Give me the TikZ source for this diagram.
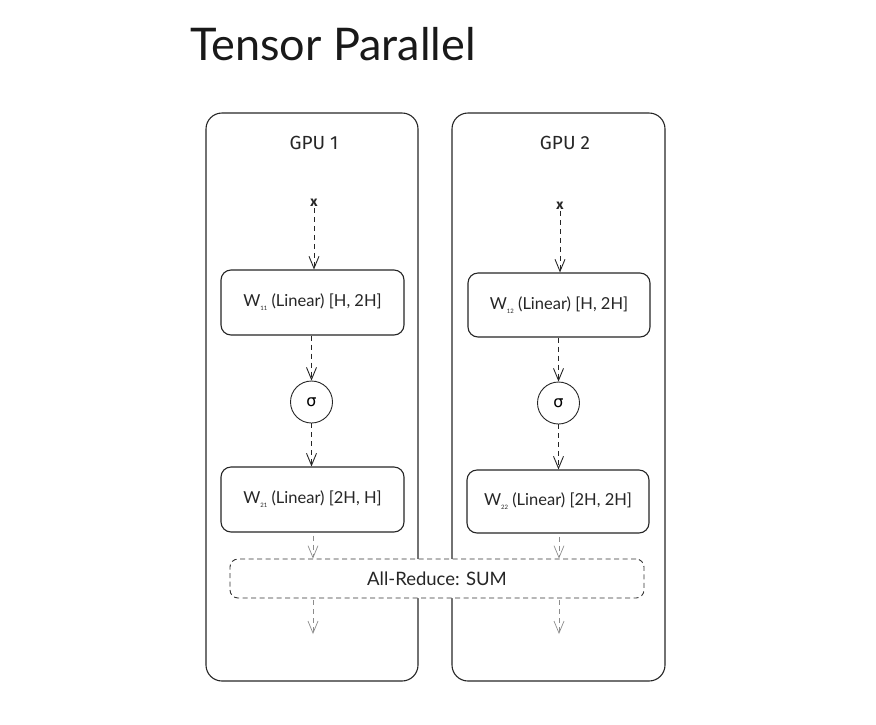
\documentclass[tikz,border=0pt]{standalone}
\usepackage{fontspec}
\setmainfont{Lato}
\newfontfamily\hand{Fira Sans}
\newfontfamily\dejavu{DejaVu Sans}
\usetikzlibrary{arrows.meta}
\begin{document}
\begin{tikzpicture}[x=1pt,y=-1pt,
  gpubox/.style={draw=black!85,line width=1.1pt,rounded corners=16pt},
  layerbox/.style={draw=black!85,line width=1.1pt,rounded corners=10pt,fill=white},
  sigmanode/.style={draw=black!85,line width=0.9pt,circle,minimum size=42pt,inner sep=0pt,font=\dejavu\fontsize{16}{18}\selectfont},
  flow/.style={draw=black!85,line width=1pt,dash pattern=on 5pt off 4pt,-{Straight Barb[length=12pt,width=10pt,line width=0.9pt]}},
  lightflow/.style={draw=black!45,line width=0.8pt,dash pattern=on 5pt off 4pt,-{Straight Barb[length=12pt,width=10pt,line width=0.7pt]}},
  lbl/.style={font=\fontsize{16.5}{18}\selectfont,text=black!85},
  gpulbl/.style={font=\hand\fontsize{19}{21}\selectfont,text=black!85},
  xlbl/.style={font=\hand\bfseries\fontsize{14}{16}\selectfont,text=black!85,inner sep=1pt}
]
\useasboundingbox (0,0) rectangle (876,724);
\node[anchor=base west,font=\fontsize{45}{50}\selectfont,text=black!90,inner sep=0pt] (title) at (190,60) {Tensor Parallel};

% GPU boxes
\node[gpubox,minimum width=212pt,minimum height=568pt,inner sep=0pt] (gpu1) at (312,397) {};
\node[gpubox,minimum width=213pt,minimum height=568pt,inner sep=0pt] (gpu2) at (558.5,397) {};
\node[gpulbl] (g1lbl) at (314,143) {GPU 1};
\node[gpulbl] (g2lbl) at (565,143) {GPU 2};

% inputs
\node[xlbl] (x1) at (314,203) {x};
\node[xlbl] (x2) at (560,206) {x};

% layers
\node[layerbox,minimum width=183pt,minimum height=65pt,lbl] (w11) at (312.5,302.5) {W\raisebox{-0.5ex}{\fontsize{6}{7}\selectfont 11} (Linear) [H, 2H]};
\node[layerbox,minimum width=182pt,minimum height=64pt,lbl] (w12) at (559,305) {W\raisebox{-0.5ex}{\fontsize{6}{7}\selectfont 12} (Linear) [H, 2H]};
\node[sigmanode] (s1) at (311.5,402) {σ};
\node[sigmanode] (s2) at (558.5,403) {σ};
\node[layerbox,minimum width=183pt,minimum height=65pt,lbl] (w21) at (312.5,499.5) {W\raisebox{-0.5ex}{\fontsize{6}{7}\selectfont 21} (Linear) [2H, H]};
\node[layerbox,minimum width=182pt,minimum height=63pt,lbl] (w22) at (558,501.5) {W\raisebox{-0.5ex}{\fontsize{6}{7}\selectfont 22} (Linear) [2H, 2H]};

% all-reduce
\node[draw=black!80,line width=0.9pt,dash pattern=on 5pt off 3.5pt,rounded corners=8pt,fill=white,minimum width=414pt,minimum height=39pt,font=\fontsize{18.5}{20}\selectfont,text=black!85] (ar) at (437,578.5) {All-Reduce: SUM};

\coordinate (o1) at (313,634);
\coordinate (o2) at (559,634);

% connectors
\draw[flow] (x1) -- (w11.north -| x1);
\draw[flow] (x2) -- (w12.north -| x2);
\draw[flow] (w11.south -| s1) -- (s1);
\draw[flow] (w12.south -| s2) -- (s2);
\draw[flow] (s1) -- (w21.north -| s1);
\draw[flow] (s2) -- (w22.north -| s2);
\draw[lightflow] ([yshift=-3pt]w21.south -| o1) -- (ar.north -| o1);
\draw[lightflow] ([yshift=-3pt]w22.south -| o2) -- (ar.north -| o2);
\draw[lightflow] ([yshift=-2pt]ar.south -| o1) -- (o1);
\draw[lightflow] ([yshift=-2pt]ar.south -| o2) -- (o2);
\end{tikzpicture}
\end{document}
